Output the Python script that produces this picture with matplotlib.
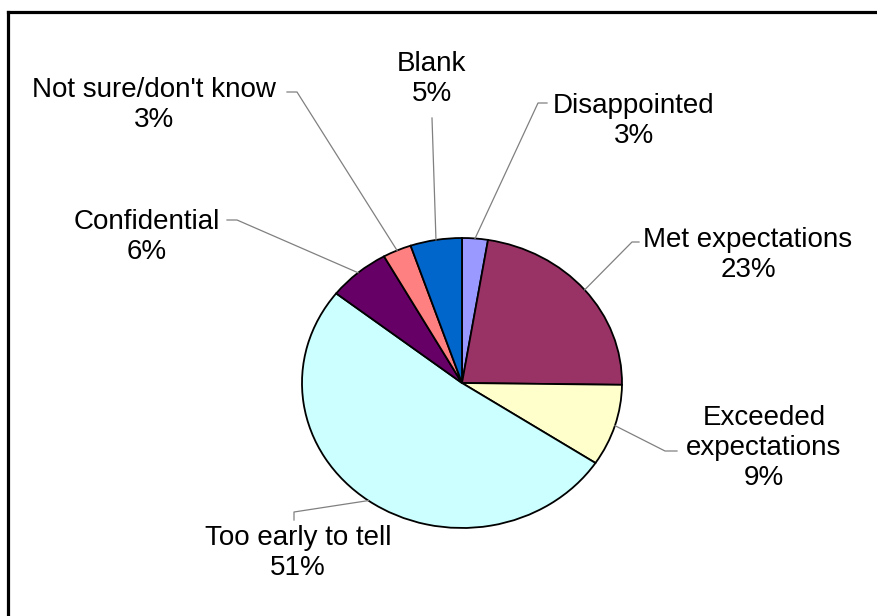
import numpy as np
import matplotlib
matplotlib.use('Agg')
from matplotlib import pyplot as plt

# data (clockwise from 12 o'clock)
categories = ['Disappointed', 'Met expectations', 'Exceeded\nexpectations', 'Too early to tell',
              'Confidential', "Not sure/don't know", 'Blank']
values = [2.6, 22.6, 9.1, 51.3, 6.3, 2.9, 5.2]
colors = ['#9999FF', '#993366', '#FFFFCC', '#CCFFFF', '#660066', '#FF8080', '#0066CC']

# label centres (px) and leader knee points (px), same order as categories
label_pos = [(634, 121), (748, 255), (764, 448), (298, 553), (147, 237), (154, 105), (432, 79)]
knees = [[(547, 103), (538, 103)],
         [(639, 242), (632, 242)],
         [(677, 451), (665, 451)],
         [(294, 520), (294, 512)],
         [(227, 220), (237, 220)],
         [(287, 92), (297, 92)],
         [(432, 118)]]

W, H = 878, 616
fig = plt.figure(figsize=(W / 100, H / 100), dpi=100)
fig.patch.set_facecolor('white')

# pie is slightly stretched horizontally in the reference
px0, px1, py0, py1 = 302, 622, 238, 528
pax = fig.add_axes([px0 / W, (H - py1) / H, (px1 - px0) / W, (py1 - py0) / H])
wedges, _ = pax.pie(values, colors=colors, startangle=90, counterclock=False,
                    wedgeprops=dict(edgecolor='black', linewidth=1.3))
pax.set_aspect('auto')
pax.set_xlim(-1, 1)
pax.set_ylim(-1, 1)
pax.axis('off')

# overlay in pixel coordinates
ov = fig.add_axes([0, 0, 1, 1])
ov.set_xlim(0, W)
ov.set_ylim(H, 0)
ov.axis('off')
ov.patch.set_alpha(0)

inv = ov.transData.inverted()
for i, w in enumerate(wedges):
    ang = np.deg2rad((w.theta1 + w.theta2) / 2)
    edge = inv.transform(pax.transData.transform((np.cos(ang), np.sin(ang))))
    pts = knees[i] + [tuple(edge)]
    xs = [p[0] for p in pts]
    ys = [p[1] for p in pts]
    ov.plot(xs, ys, color='#808080', lw=0.9)
    lx, ly = label_pos[i]
    ov.text(lx, ly, categories[i] + '\n' + f'{round(values[i])}%', ha='center', va='center',
            fontsize=20, family=['Liberation Sans', 'DejaVu Sans'], linespacing=1.2, color='black')

# partial frame (left and top)
ov.plot([8.5, 8.5], [616, 11.5], color='black', lw=2.3, solid_capstyle='projecting')
ov.plot([8.5, 878], [11.5, 11.5], color='black', lw=2.3, solid_capstyle='projecting')

fig.savefig('out.png', dpi=100)
